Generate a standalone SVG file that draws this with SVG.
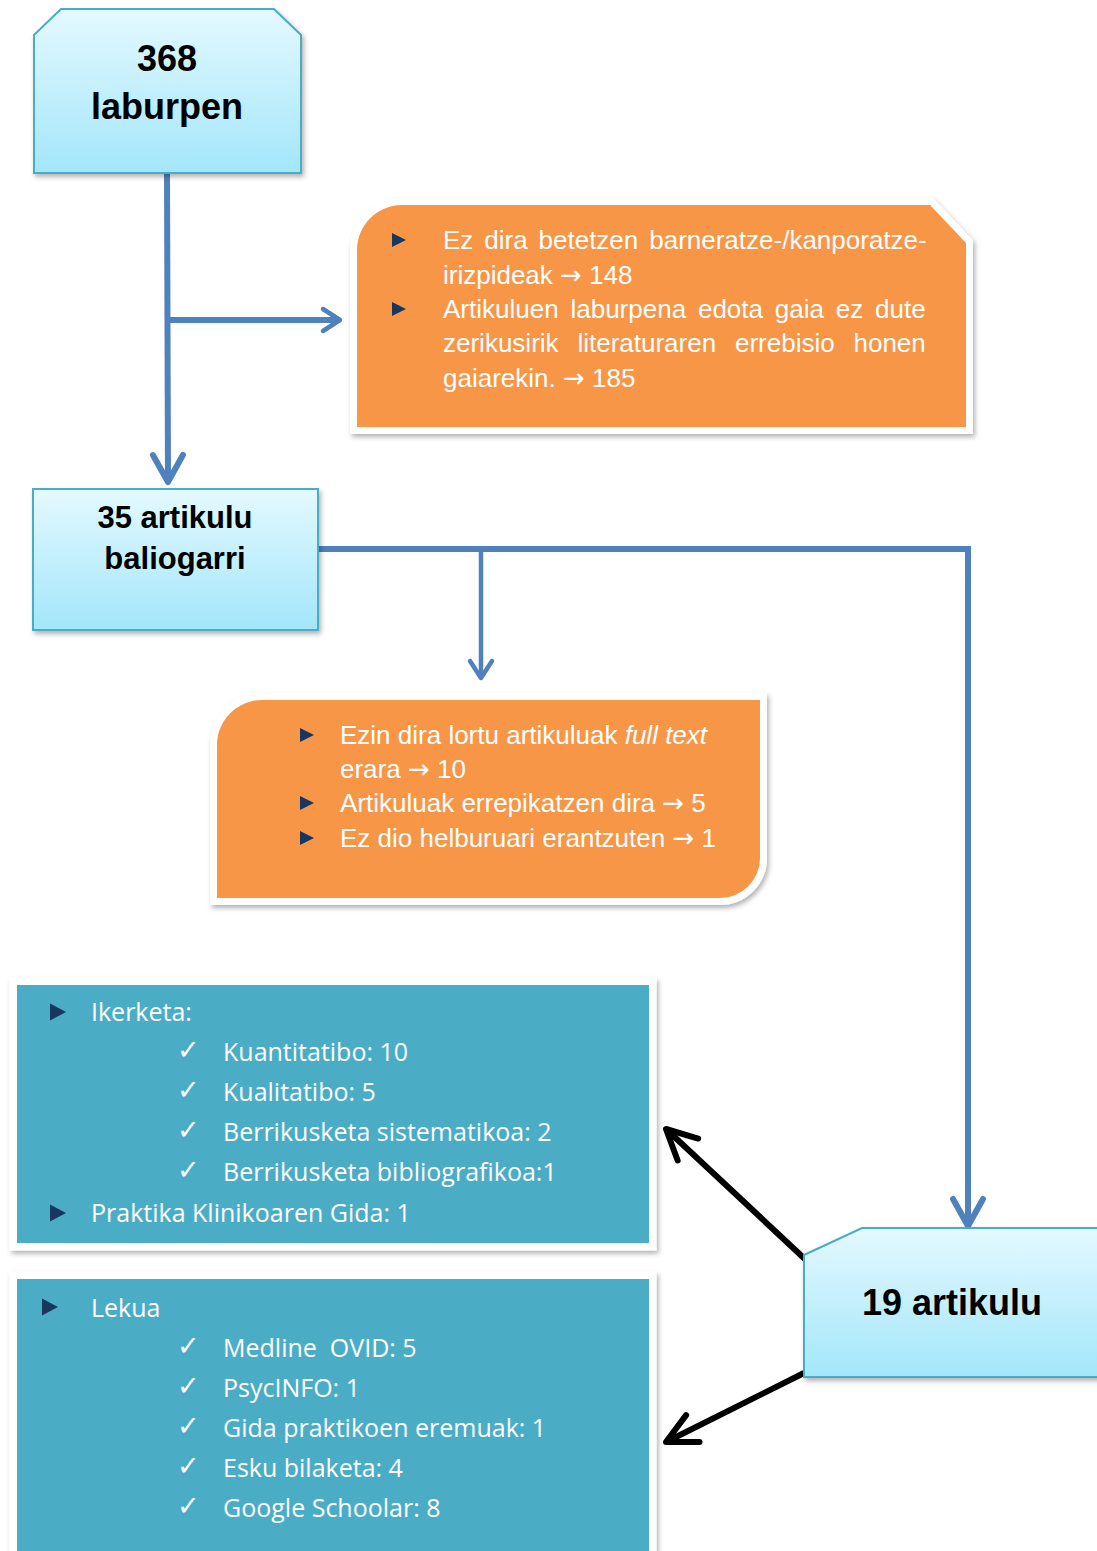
<svg xmlns="http://www.w3.org/2000/svg" xmlns:xlink="http://www.w3.org/1999/xlink" width="1097" height="1551" viewBox="0 0 1097 1551">
<style>
.title{font-family:"Liberation Sans",Arial,sans-serif;font-weight:bold;fill:#000;text-anchor:middle}
.otext{font-family:"Liberation Sans",Arial,sans-serif;font-size:26px;fill:#fff}
.arr{font-family:"DejaVu Sans",sans-serif}
.ttext{font-family:"Open Sans",sans-serif;font-size:25px;fill:#fff}
.chk{font-family:"DejaVu Sans",sans-serif;font-size:27px;fill:#fff}
.lbox{fill:url(#gb);stroke:#4bacc6;stroke-width:2}
.obox{fill:#f79646;stroke:#fff;stroke-width:14;stroke-linejoin:miter;paint-order:stroke fill}
.tbox{fill:#4bacc6;stroke:#fff;stroke-width:15;paint-order:stroke fill}
.blue{fill:none;stroke:#4f81bd;stroke-width:6}
.blueT{fill:none;stroke:#4f81bd;stroke-width:4.5}
.black{fill:none;stroke:#000;stroke-width:6}
</style>
<defs>
<linearGradient id="gb" x1="0" y1="0" x2="0" y2="1">
<stop offset="0" stop-color="#e4f9ff"/>
<stop offset="1" stop-color="#a3e6fa"/>
</linearGradient>
<filter id="sh" x="-10%" y="-10%" width="125%" height="125%">
<feDropShadow dx="2" dy="3" stdDeviation="2.5" flood-color="#000" flood-opacity="0.3"/>
</filter>
<path id="bul" d="M0,-7 L14,0 L0,7 Z" fill="#17375e"/>
<path id="bulL" d="M0,-8.5 L16,0 L0,8.5 Z" fill="#17375e"/>
<marker id="aBlue" markerUnits="userSpaceOnUse" viewBox="-40 -20 40 40" markerWidth="40" markerHeight="40" refX="0" refY="0" orient="auto" overflow="visible">
<path d="M-27,-15 L0,0 L-27,15" fill="none" stroke="#4f81bd" stroke-width="6" stroke-linecap="round" stroke-linejoin="round"/>
</marker>
<marker id="aBlueS" markerUnits="userSpaceOnUse" viewBox="-40 -20 40 40" markerWidth="40" markerHeight="40" refX="0" refY="0" orient="auto" overflow="visible">
<path d="M-17,-11 L0,0 L-17,11" fill="none" stroke="#4f81bd" stroke-width="4.5" stroke-linecap="round" stroke-linejoin="round"/>
</marker>
<marker id="aBlack" markerUnits="userSpaceOnUse" viewBox="-40 -20 40 40" markerWidth="40" markerHeight="40" refX="0" refY="0" orient="auto" overflow="visible">
<path d="M-30,-15 L0,0 L-30,15" fill="none" stroke="#000" stroke-width="6" stroke-linecap="round" stroke-linejoin="round"/>
</marker>
</defs>
<rect width="1097" height="1551" fill="#fff"/>

<g id="connectors">
<line class="blue" x1="167" y1="173" x2="168" y2="482" marker-end="url(#aBlue)"/>
<line class="blue" x1="170" y1="320" x2="340" y2="320" marker-end="url(#aBlueS)"/>
<polyline class="blue" points="318,549 968,549 968,1226" marker-end="url(#aBlue)"/>
<line class="blueT" x1="481" y1="549" x2="481" y2="678" marker-end="url(#aBlueS)"/>
<line class="black" x1="806" y1="1260" x2="666" y2="1129" marker-end="url(#aBlack)"/>
<line class="black" x1="804" y1="1373" x2="666" y2="1442" marker-end="url(#aBlack)"/>
</g>

<g id="node-368">
<path class="lbox" filter="url(#sh)" d="M34,35 L61,9 L274,9 L301,35 L301,173 L34,173 Z"/>
<text class="title" x="167" y="71" font-size="36">368</text>
<text class="title" x="167" y="119" font-size="36">laburpen</text>
</g>

<g id="node-excl1">
<path class="obox" filter="url(#sh)" d="M357,250 A45,45 0 0 1 402,205 L930,205 L966,243 L966,427 L357,427 Z"/>
<use href="#bul" x="392" y="240"/>
<use href="#bul" x="392" y="309"/>
<text class="otext" x="443" y="249" word-spacing="3.7">Ez dira betetzen barneratze-/kanporatze-</text>
<text class="otext" x="443" y="283.5">irizpideak <tspan class="arr">→</tspan> 148</text>
<text class="otext" x="443" y="318" word-spacing="4.6">Artikuluen laburpena edota gaia ez dute</text>
<text class="otext" x="443" y="352" word-spacing="11.6">zerikusirik literaturaren errebisio honen</text>
<text class="otext" x="443" y="386.5">gaiarekin. <tspan class="arr">→</tspan> 185</text>
</g>

<g id="node-35">
<rect class="lbox" filter="url(#sh)" x="33" y="489" width="285" height="141"/>
<text class="title" x="175" y="528" font-size="31">35 artikulu</text>
<text class="title" x="175" y="569" font-size="31">baliogarri</text>
</g>

<g id="node-excl2">
<path class="obox" filter="url(#sh)" d="M217,745 A45,45 0 0 1 262,700 L760,700 L760,858 A40,40 0 0 1 720,898 L217,898 Z"/>
<use href="#bul" x="300" y="735"/>
<use href="#bul" x="300" y="803"/>
<use href="#bul" x="300" y="838"/>
<text class="otext" x="340" y="744">Ezin dira lortu artikuluak <tspan font-style="italic">full text</tspan></text>
<text class="otext" x="340" y="778">erara <tspan class="arr">→</tspan> 10</text>
<text class="otext" x="340" y="812">Artikuluak errepikatzen dira <tspan class="arr">→</tspan> 5</text>
<text class="otext" x="340" y="847">Ez dio helburuari erantzuten <tspan class="arr">→</tspan> 1</text>
</g>

<g id="node-mota">
<rect class="tbox" filter="url(#sh)" x="17" y="985" width="632" height="258"/>
<use href="#bulL" x="50" y="1012"/>
<use href="#bulL" x="50" y="1213"/>
<text class="ttext" x="91" y="1021">Ikerketa:</text>
<text class="chk" x="177" y="1059">✓</text>
<text class="ttext" x="223" y="1061">Kuantitatibo: 10</text>
<text class="chk" x="177" y="1099">✓</text>
<text class="ttext" x="223" y="1101">Kualitatibo: 5</text>
<text class="chk" x="177" y="1139">✓</text>
<text class="ttext" x="223" y="1141">Berrikusketa sistematikoa: 2</text>
<text class="chk" x="177" y="1179">✓</text>
<text class="ttext" x="223" y="1181">Berrikusketa bibliografikoa:1</text>
<text class="ttext" x="91" y="1222">Praktika Klinikoaren Gida: 1</text>
</g>

<g id="node-lekua">
<rect class="tbox" filter="url(#sh)" x="17" y="1279" width="632" height="280"/>
<use href="#bulL" x="42" y="1307"/>
<text class="ttext" x="91" y="1317">Lekua</text>
<text class="chk" x="177" y="1355">✓</text>
<text class="ttext" x="223" y="1357" xml:space="preserve">Medline  OVID: 5</text>
<text class="chk" x="177" y="1395">✓</text>
<text class="ttext" x="223" y="1397">PsycINFO: 1</text>
<text class="chk" x="177" y="1435">✓</text>
<text class="ttext" x="223" y="1437">Gida praktikoen eremuak: 1</text>
<text class="chk" x="177" y="1475">✓</text>
<text class="ttext" x="223" y="1477">Esku bilaketa: 4</text>
<text class="chk" x="177" y="1515">✓</text>
<text class="ttext" x="223" y="1517">Google Schoolar: 8</text>
</g>

<g id="node-19">
<path class="lbox" filter="url(#sh)" d="M804,1255 L862,1228 L1110,1228 L1110,1377 L804,1377 Z"/>
<text class="title" x="952" y="1315" font-size="36">19 artikulu</text>
</g>
</svg>
